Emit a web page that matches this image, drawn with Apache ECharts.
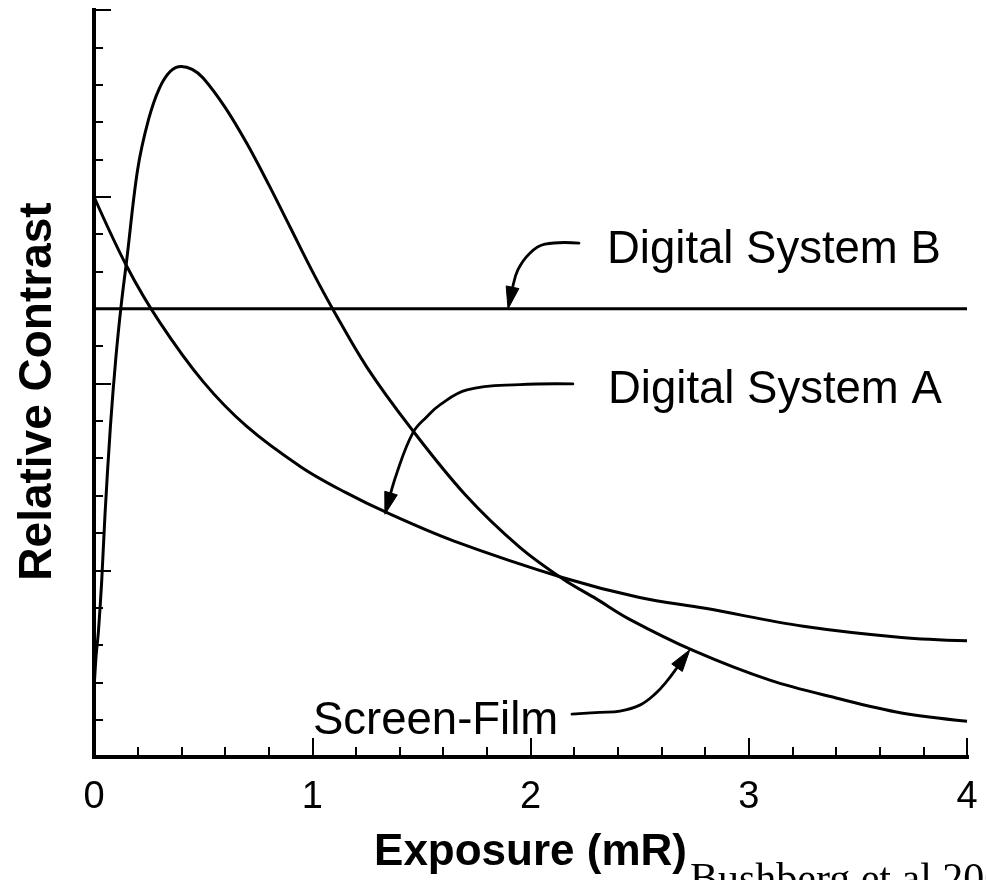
<!DOCTYPE html>
<html>
<head>
<meta charset="utf-8">
<script src="https://cdn.jsdelivr.net/npm/echarts@6/dist/echarts.min.js"></script>
<style>
  html, body { margin: 0; padding: 0; background: #ffffff; }
  #chart { width: 986px; height: 880px; }
</style>
</head>
<body>
<div id="chart"></div>
<script>
// Relative contrast versus exposure for screen-film and two digital systems
const filmExposure = [0, 0.01, 0.02, 0.035, 0.05, 0.075, 0.1, 0.125, 0.15, 0.2, 0.25, 0.3, 0.35, 0.4, 0.45, 0.5, 0.6, 0.7, 0.8, 0.9, 1.0, 1.1, 1.25, 1.45, 1.7, 1.95, 2.15, 2.3, 2.45, 2.75, 3.1, 3.4, 3.7, 4.0];
const filmContrast = [1.8, 2.74, 3.34, 4.68, 6.45, 8.83, 10.68, 12.12, 13.31, 15.73, 17.07, 17.91, 18.36, 18.49, 18.41, 18.18, 17.4, 16.43, 15.33, 14.17, 13.01, 11.93, 10.44, 8.82, 7.03, 5.62, 4.76, 4.24, 3.7, 2.84, 2.05, 1.58, 1.18, 0.96];

const sysAExposure = [0, 0.15, 0.3, 0.5, 0.7, 0.95, 1.15, 1.35, 1.65, 2.15, 2.5, 2.8, 3.25, 3.7, 4.0];
const sysAContrast = [15.0, 13.14, 11.65, 10.05, 8.85, 7.76, 7.09, 6.52, 5.78, 4.8, 4.27, 3.98, 3.5, 3.2, 3.11];

const sysBExposure = [0, 4];
const sysBContrast = [12, 12];

// Callout arrow paths in data units (exposure, contrast); the last point is the tip
const arrowBExposure = [2.222, 2.066, 1.997, 1.942, 1.915, 1.897];
const arrowBContrast = [13.76, 13.73, 13.49, 13.04, 12.5, 12.0];
const arrowAExposure = [2.194, 1.951, 1.709, 1.585, 1.525, 1.461, 1.388, 1.333];
const arrowAContrast = [9.99, 9.97, 9.83, 9.43, 9.11, 8.68, 7.61, 6.5];
const arrowFilmExposure = [2.19, 2.318, 2.41, 2.501, 2.57, 2.625, 2.676, 2.73];
const arrowFilmContrast = [1.149, 1.194, 1.229, 1.389, 1.683, 2.03, 2.43, 2.87];

const pairs = (xs, ys) => xs.map((x, i) => [x, ys[i]]);

const FONT = '"Liberation Sans", Arial, Helvetica, sans-serif';
const SERIF = '"Liberation Serif", "Times New Roman", serif';
const INK = '#000000';
const CURVE_W = 3;

const chart = echarts.init(document.getElementById('chart'), null, { renderer: 'canvas' });

const frameLine = { show: true, lineStyle: { color: INK, width: 4, cap: 'square' } };

const option = {
  backgroundColor: '#ffffff',
  animation: false,
  grid: { left: 94, top: 10, width: 873, height: 748, containLabel: false },
  xAxis: [
    {
      type: 'value', min: 0, max: 4, interval: 1, position: 'bottom',
      axisLine: frameLine,
      axisTick: { show: true, inside: true, length: 19, lineStyle: { color: INK, width: 2 } },
      minorTick: { show: true, splitNumber: 5, length: 10, lineStyle: { color: INK, width: 2 } },
      splitLine: { show: false },
      axisLabel: { show: true, margin: 22, color: INK, fontSize: 38, fontFamily: FONT },
      name: 'Exposure (mR)', nameLocation: 'middle', nameGap: 74,
      nameTextStyle: { color: INK, fontSize: 44, fontWeight: 'bold', fontFamily: FONT }
    },
    {
      type: 'value', min: 0, max: 4, position: 'top',
      axisLine: frameLine, axisTick: { show: false }, axisLabel: { show: false }, splitLine: { show: false }
    }
  ],
  yAxis: [
    {
      type: 'value', min: 0, max: 20, interval: 5, position: 'left',
      axisLine: frameLine,
      axisTick: { show: true, inside: true, length: 17, lineStyle: { color: INK, width: 2 } },
      minorTick: { show: true, splitNumber: 5, length: 9, lineStyle: { color: INK, width: 2 } },
      splitLine: { show: false },
      axisLabel: { show: false },
      name: 'Relative Contrast', nameLocation: 'middle', nameGap: 33,
      nameTextStyle: { color: INK, fontSize: 46, fontWeight: 'bold', fontFamily: FONT, padding: [0, 16, 0, 0] }
    },
    {
      type: 'value', min: 0, max: 20, position: 'right',
      axisLine: frameLine, axisTick: { show: false }, axisLabel: { show: false }, splitLine: { show: false }
    }
  ],
  series: [
    {
      name: 'Screen-Film', type: 'line', xAxisIndex: 0, yAxisIndex: 0,
      data: pairs(filmExposure, filmContrast), smooth: 0.35,
      showSymbol: false, lineStyle: { color: INK, width: CURVE_W }, z: 3
    },
    {
      name: 'Digital System A', type: 'line', xAxisIndex: 0, yAxisIndex: 0,
      data: pairs(sysAExposure, sysAContrast), smooth: 0.35,
      showSymbol: false, lineStyle: { color: INK, width: CURVE_W }, z: 3
    },
    {
      name: 'Digital System B', type: 'line', xAxisIndex: 0, yAxisIndex: 0,
      data: pairs(sysBExposure, sysBContrast),
      showSymbol: false, lineStyle: { color: INK, width: CURVE_W }, z: 3
    }
  ]
};

chart.setOption(option);

// Build a curved callout arrow (smoothed path + filled head) from data-unit points
function calloutArrow(xs, ys) {
  const pts = xs.map((x, i) => chart.convertToPixel({ gridIndex: 0 }, [x, ys[i]]));
  const tip = pts[pts.length - 1];
  const prev = pts[pts.length - 2];
  let dx = tip[0] - prev[0], dy = tip[1] - prev[1];
  const len = Math.hypot(dx, dy) || 1;
  dx /= len; dy /= len;
  const headLen = 22, halfW = 6.5;
  const base = [tip[0] - dx * headLen, tip[1] - dy * headLen];
  const linePts = pts.slice(0, -1).concat([[tip[0] - dx * 6, tip[1] - dy * 6]]);
  return [
    {
      type: 'polyline', z: 10,
      shape: { points: linePts, smooth: 0.4 },
      style: { stroke: INK, lineWidth: 2.8, fill: null, lineCap: 'round' }
    },
    {
      type: 'polygon', z: 11,
      shape: { points: [tip, [base[0] - dy * halfW, base[1] + dx * halfW], [base[0] + dy * halfW, base[1] - dx * halfW]] },
      style: { fill: INK, stroke: INK, lineWidth: 1 }
    }
  ];
}

// Text placed by its baseline: the line box is centred 0.3465 em above it
function label(text, x, baseline, size, family) {
  return {
    type: 'text', z: 12, x: x, y: baseline - 0.3465 * size,
    style: { text: text, fill: INK, fontSize: size, fontFamily: family, align: 'left', verticalAlign: 'middle' }
  };
}

chart.setOption({
  graphic: [
    ...calloutArrow(arrowBExposure, arrowBContrast),
    ...calloutArrow(arrowAExposure, arrowAContrast),
    ...calloutArrow(arrowFilmExposure, arrowFilmContrast),
    label('Digital System B', 607, 266, 45.5, FONT),
    label('Digital System A', 608, 406, 45.5, FONT),
    label('Screen-Film', 313, 737, 45.5, FONT),
    label('Bushberg et al 2002', 690, 896, 42, SERIF)
  ]
});
</script>
</body>
</html>
